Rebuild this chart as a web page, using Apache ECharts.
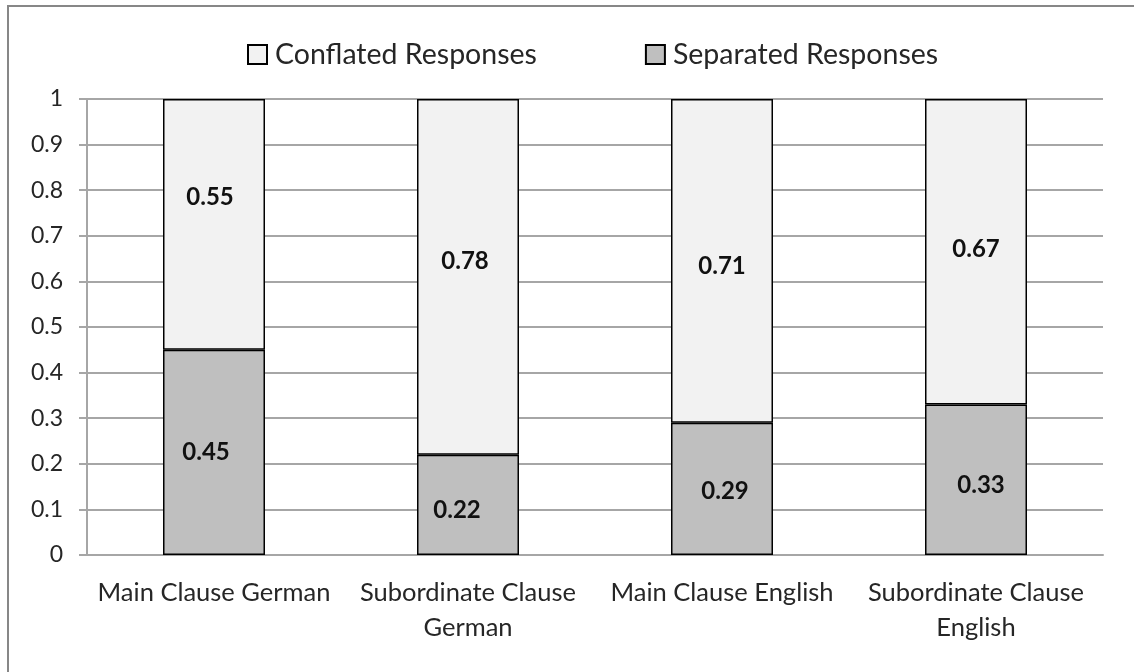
<!DOCTYPE html>
<html>
<head>
<meta charset="utf-8">
<script src="https://cdn.jsdelivr.net/npm/echarts@6/dist/echarts.min.js"></script>
<style>html,body{margin:0;padding:0;background:#fff}#c{width:1134px;height:672px}</style>
</head>
<body>
<div id="c"></div>
<script>
const categories = ['Main Clause German', 'Subordinate Clause\nGerman', 'Main Clause English', 'Subordinate Clause\nEnglish'];
const separated = [0.45, 0.22, 0.29, 0.33];
const conflated = [0.55, 0.78, 0.71, 0.67];
const yTicks = [0, 0.1, 0.2, 0.3, 0.4, 0.5, 0.6, 0.7, 0.8, 0.9, 1];

// layout tweaks for data-label placement (pixels), kept apart from the data
const sepLabelNudge = [[-8, 0], [-11, 5], [3, 2], [5, 6]];
const conLabelNudge = [[-4, -27], [-3, -16], [0, 5], [0, -2]];

const FONT = 'Lato';
const TXT = '#262626';
const GRID = '#a6a6a6';

function build(vals, nudges) {
  return vals.map((v, i) => ({ value: v, label: { offset: nudges[i] } }));
}

const chart = echarts.init(document.getElementById('c'), null, { renderer: 'canvas' });
chart.setOption({
  backgroundColor: '#fff',
  animation: false,
  textStyle: { fontFamily: FONT },
  graphic: [{
    type: 'rect', shape: { x: 8, y: 6, width: 1300, height: 900 },
    style: { fill: 'none', stroke: '#878787', lineWidth: 2 }, silent: true, z: 100
  }],
  legend: {
    data: ['Conflated Responses', 'Separated Responses'],
    top: 40, left: 247, padding: 0, itemWidth: 19, itemHeight: 19, itemGap: 108,
    icon: 'rect',
    textStyle: { fontFamily: FONT, fontSize: 28.5, color: TXT, padding: [0, 0, 0, 3] }
  },
  grid: { left: 87, right: 31, top: 99, bottom: 117, containLabel: false, outerBoundsMode: 'none' },
  xAxis: {
    type: 'category', data: categories,
    axisLine: { show: true, lineStyle: { color: GRID, width: 2 } },
    axisTick: { show: false },
    axisLabel: { fontFamily: FONT, fontSize: 25.5, color: TXT, lineHeight: 35, margin: 20, interval: 0 }
  },
  yAxis: {
    type: 'value', min: 0, max: 1, interval: 0.1,
    axisLine: { show: true, lineStyle: { color: GRID, width: 2 } },
    axisTick: { show: true, length: 8, lineStyle: { color: GRID, width: 2 } },
    splitLine: { show: true, lineStyle: { color: GRID, width: 2 } },
    axisLabel: {
      fontFamily: FONT, fontSize: 23, color: TXT, margin: 24,
      formatter: v => { const t = yTicks.find(x => Math.abs(x - v) < 1e-9); return String(t !== undefined ? t : v); }
    }
  },
  series: [
    {
      name: 'Separated Responses', type: 'bar', stack: 'total', barWidth: 102,
      data: build(separated, sepLabelNudge),
      itemStyle: { color: '#bfbfbf', borderColor: '#000', borderWidth: 1.5 },
      label: { show: true, position: 'inside', fontFamily: FONT, fontSize: 24, fontWeight: 'bold', color: '#111',
        formatter: p => p.value.toFixed(2) }
    },
    {
      name: 'Conflated Responses', type: 'bar', stack: 'total', barWidth: 102,
      data: build(conflated, conLabelNudge),
      itemStyle: { color: '#f2f2f2', borderColor: '#000', borderWidth: 1.5 },
      label: { show: true, position: 'inside', fontFamily: FONT, fontSize: 24, fontWeight: 'bold', color: '#111',
        formatter: p => p.value.toFixed(2) }
    }
  ]
});
</script>
</body>
</html>
